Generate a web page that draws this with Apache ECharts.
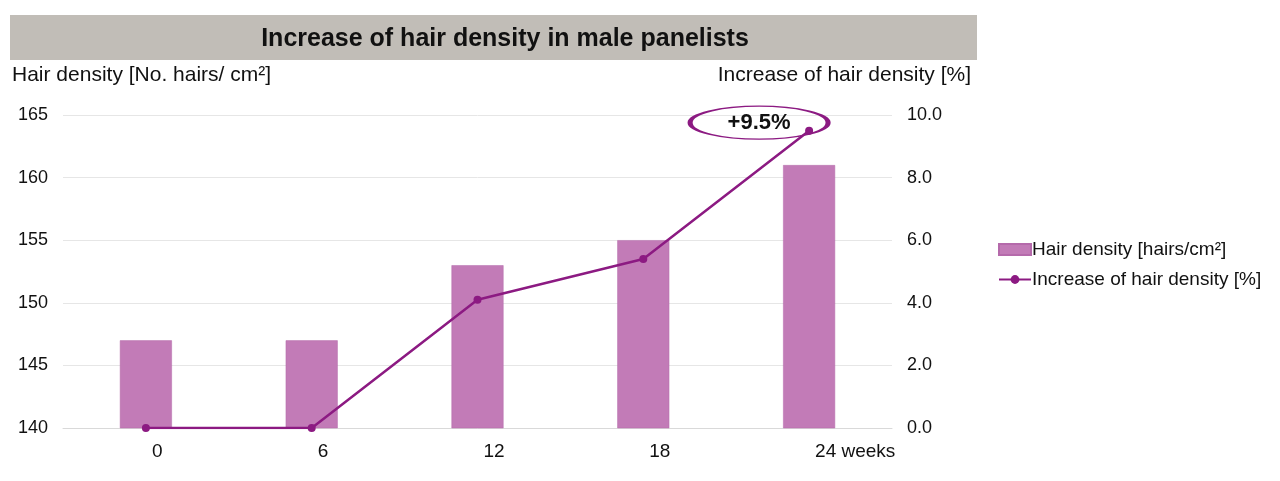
<!DOCTYPE html>
<html style="height: 100%">
<head>
    <meta charset="utf-8">
    <script src="https://cdn.jsdelivr.net/npm/echarts@6/dist/echarts.min.js"></script>
</head>
<body style="height: 100%; margin: 0; background: #fff">
<div id="container" style="width: 1280px; height: 481px"></div>
<script type="text/javascript">
    var weeks = ['0', '6', '12', '18', '24 weeks'];
    var hairDensity = [147, 147, 153, 155, 161];
    var densityIncrease = [0, 0, 4.1, 5.4, 9.5];
    var leftTicks = {min: 140, max: 165, interval: 5};
    var rightTicks = {min: 0, max: 10, interval: 2};

    var purple = '#8c1a82';
    var barColor = '#c27bb7';
    var font = 'Liberation Sans, Arial, sans-serif';

    var myChart = echarts.init(document.getElementById('container'));
    myChart.setOption({
        animation: false,
        textStyle: {fontFamily: font},
        graphic: [
            {type: 'rect', shape: {x: 10, y: 15, width: 967, height: 45}, style: {fill: '#c1bdb7'}, z: -1},
            {type: 'text', x: 505, y: 39, style: {text: 'Increase of hair density in male panelists', font: 'bold 25px ' + font, fill: '#111', align: 'center', verticalAlign: 'middle'}},
            {type: 'text', x: 12, y: 75, style: {text: 'Hair density [No. hairs/ cm²]', font: '21px ' + font, fill: '#111', verticalAlign: 'middle'}},
            {type: 'text', x: 971, y: 75, style: {text: 'Increase of hair density [%]', font: '21px ' + font, fill: '#111', align: 'right', verticalAlign: 'middle'}}
        ],
        legend: {
            orient: 'vertical',
            left: 998,
            top: 240,
            padding: 0,
            itemWidth: 32,
            itemHeight: 11,
            itemGap: 11,
            textStyle: {fontSize: 19, color: '#111', padding: [0, 0, 0, -4]},
            data: [
                {name: 'Hair density [hairs/cm²]', icon: 'rect'},
                {name: 'Increase of hair density [%]'}
            ]
        },
        grid: {left: 63, right: 388, top: 115, bottom: 53},
        xAxis: {
            type: 'category',
            data: weeks,
            axisLine: {lineStyle: {color: '#d9d9d9', width: 1}},
            axisTick: {show: false},
            axisLabel: {color: '#111', fontSize: 19, margin: 14, align: 'left', padding: [0, 0, 0, 6]}
        },
        yAxis: [
            {
                type: 'value',
                min: leftTicks.min, max: leftTicks.max, interval: leftTicks.interval,
                axisLine: {show: false},
                axisTick: {show: false},
                splitLine: {lineStyle: {color: '#e6e6e6'}},
                axisLabel: {color: '#111', fontSize: 18, margin: 15}
            },
            {
                type: 'value',
                min: rightTicks.min, max: rightTicks.max, interval: rightTicks.interval,
                axisLine: {show: false},
                axisTick: {show: false},
                splitLine: {show: false},
                axisLabel: {color: '#111', fontSize: 18, margin: 15, align: 'left', formatter: function (v) { return v.toFixed(1); }}
            }
        ],
        series: [
            {
                name: 'Hair density [hairs/cm²]',
                type: 'bar',
                data: hairDensity,
                barWidth: 52,
                itemStyle: {color: barColor, borderColor: '#b56aab', borderWidth: 0.5}
            },
            {
                name: 'Increase of hair density [%]',
                type: 'line',
                yAxisIndex: 1,
                data: densityIncrease,
                symbol: 'circle',
                symbolSize: 8,
                lineStyle: {color: purple, width: 2.5},
                itemStyle: {color: purple},
                markPoint: {
                    symbol: 'circle',
                    symbolSize: [138, 33],
                    symbolOffset: [-50, -8],
                    itemStyle: {color: 'rgba(0,0,0,0)', borderColor: purple, borderWidth: 2.5},
                    label: {show: true, position: 'inside', formatter: '+9.5%', color: '#111', fontSize: 22, fontWeight: 'bold'},
                    data: [{coord: [4, densityIncrease[4]]}]
                }
            }
        ]
    });
</script>
</body>
</html>
